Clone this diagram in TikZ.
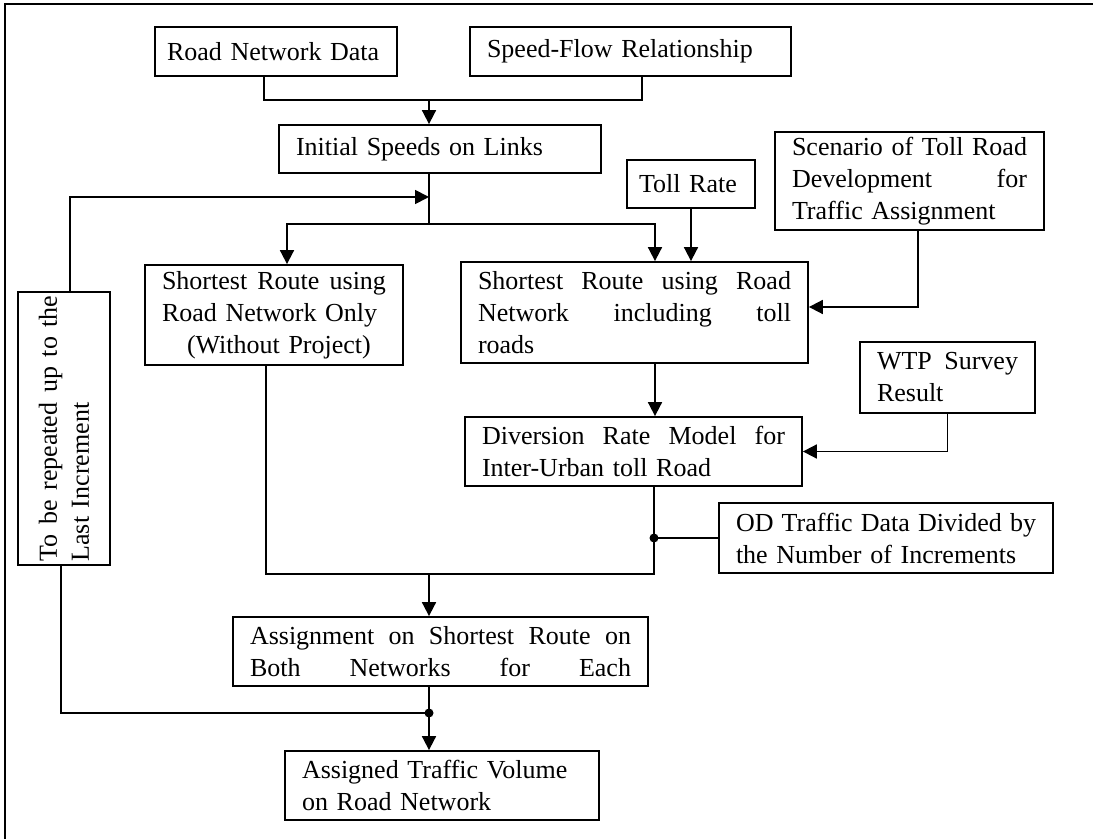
\documentclass[tikz,border=0pt]{standalone}
\usepackage{fontspec}
\setmainfont{Liberation Serif}
\usetikzlibrary{arrows.meta}

\tikzset{
	block/.style = {draw, line width = 0.9pt, inner xsep = 8.5pt, inner ysep = 0pt, align = left, font = \fontsize{13}{16}\selectfont},
	link/.style = {line width = 0.9pt}
}

\begin{document}
\begin{tikzpicture}[x = 0.5pt, y = -0.5pt, > = {Triangle[length = 7pt, width = 7pt]}]

	% Frame
	
	\useasboundingbox (0, 0) rectangle (1093, 839);
	\draw [link] (5, 839) -- (5, 4) -- (1093, 4);
	
	% Input boxes
	
	\node [block, inner xsep = 6pt, minimum width = 121pt, minimum height = 24.5pt, text width = 109pt] (data) at (276, 51.5) {Road Network Data};
	\node [block, minimum width = 160.5pt, minimum height = 24.5pt, text width = 143.5pt] (flow) at (630.5, 51.5) {Speed-Flow Relationship};
	\node [block, minimum width = 161pt, minimum height = 24pt, text width = 144pt] (speed) at (440, 149) {Initial Speeds on Links};
	\node [block, inner xsep = 6pt, minimum width = 64pt, minimum height = 24pt, text width = 52pt] (rate) at (691, 184) {Toll Rate};
	\node [block, minimum width = 134.5pt, minimum height = 49pt, text width = 117.5pt] (scenario) at (909.5, 181)
		{Scenario\hfill of\hfill Toll\hfill Road\\ Development\hfill for\\ Traffic Assignment};
	
	% Route search
	
	\node [block, minimum width = 129pt, minimum height = 50pt, text width = 112pt] (plain) at (274, 315)
		{Shortest\hfill Route\hfill using\\ Road Network Only\\ \hspace*{12.5pt}(Without Project)};
	\node [block, minimum width = 173.5pt, minimum height = 50.5pt, text width = 156.5pt] (tolled) at (634.5, 312.5)
		{Shortest\hfill Route\hfill using\hfill Road\\ Network\hfill including\hfill toll\\ roads};
	\node [block, minimum width = 87.5pt, minimum height = 35.5pt, text width = 70.5pt] (wtp) at (947.5, 377.5)
		{WTP\hfill Survey\\ Result};
	\node [block, minimum width = 168.5pt, minimum height = 34.5pt, text width = 151.5pt] (diversion) at (633.5, 451.5)
		{Diversion\hfill Rate\hfill Model\hfill for\\ Inter-Urban toll Road};
	\node [block, minimum width = 167pt, minimum height = 35pt, text width = 150pt] (od) at (886, 538)
		{OD\hfill Traffic\hfill Data\hfill Divided\hfill by\\ the Number of Increments};
	
	% Assignment
	
	\node [block, minimum width = 207.5pt, minimum height = 34.5pt, text width = 190.5pt] (assign) at (440.5, 651.5)
		{Assignment\hfill on\hfill Shortest\hfill Route\hfill on\\ Both\hfill Networks\hfill for\hfill Each};
	\node [block, minimum width = 157pt, minimum height = 34.5pt, text width = 140pt] (volume) at (442, 785.5)
		{Assigned Traffic Volume\\ on Road Network};
	\node [block, rotate = 90, inner xsep = 1.75pt, minimum width = 136.5pt, minimum height = 46pt, text width = 133pt] (again) at (64, 428.5)
		{To\hfill be\hfill repeated\hfill up\hfill to\hfill the\\ Last Increment};
	
	% Junctions
	
	\coordinate (jtop) at (429, 100);
	\coordinate (jloop) at (429, 197);
	\coordinate (jsplit) at (429, 224);
	\coordinate (jod) at (654, 538);
	\coordinate (jmerge) at (429, 574);
	\coordinate (jout) at (429, 713);
	
	% Initial speeds
	
	\draw [link] ([xshift = -6pt]data.south) |- (jtop) -| ([xshift = 5.75pt]flow.south);
	\draw [link, ->] (jtop) -- (jtop |- speed.north);
	
	% Shortest routes
	
	\draw [link] (speed.south -| jsplit) -- (jsplit);
	\draw [link, ->] (jsplit) -| ([xshift = 6.5pt]plain.north);
	\draw [link, ->] (jsplit) -| ([xshift = 10.25pt]tolled.north);
	\draw [link, ->] (rate.south) -- (rate.south |- tolled.north);
	\draw [link, ->] ([xshift = 4.25pt]scenario.south) |- ([yshift = 2.75pt]tolled.east);
	
	% Diversion
	
	\draw [link, ->] ([xshift = 10.25pt]tolled.south) -- ([xshift = 10.25pt]tolled.south |- diversion.north);
	\draw [link, ->] (wtp.south) |- (diversion.east);
	
	% Merge of both networks
	
	\draw [link] (diversion.south -| jod) |- (jmerge) -| ([xshift = -4pt]plain.south);
	\draw [link] (od.west) -- (jod);
	\fill (jod) circle (2.25pt);
	\draw [link, ->] (jmerge) -- (jmerge |- assign.north);
	
	% Output + increment loop
	
	\draw [link] (assign.south -| jout) -- (jout);
	\draw [link, ->] (jout) -- (jout |- volume.north);
	\fill (jout) circle (2.25pt);
	\draw [link] ([xshift = -1.5pt]again.west) |- (jout);
	\draw [link, ->] ([xshift = 3pt]again.east) |- (jloop);

\end{tikzpicture}
\end{document}
